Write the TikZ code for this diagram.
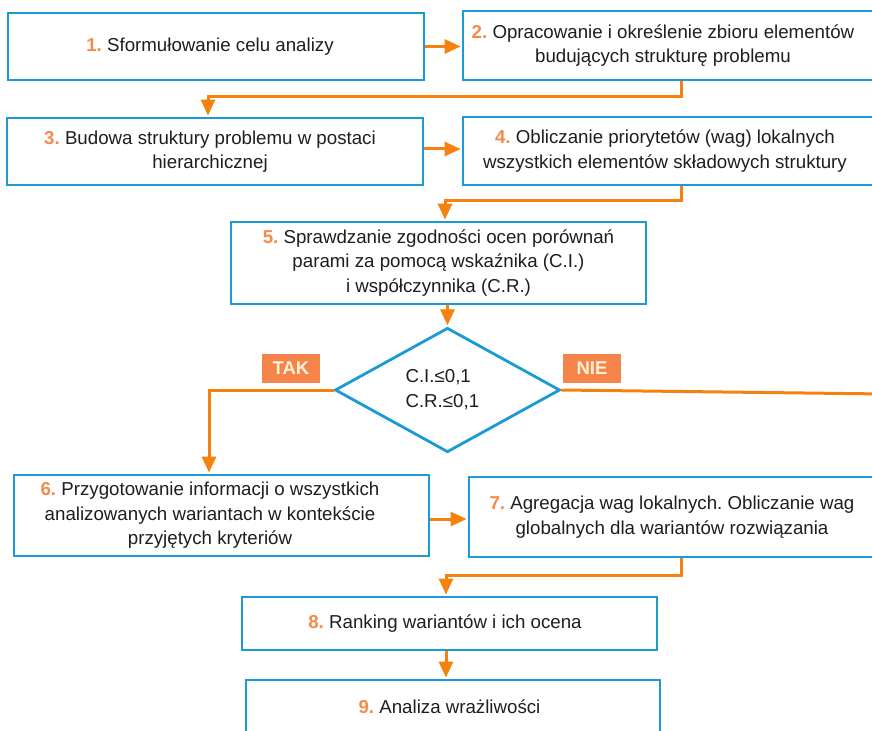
\documentclass[tikz,border=0pt]{standalone}
\usepackage{fontspec}
\setmainfont{Liberation Sans}
\usetikzlibrary{shapes.geometric,arrows.meta}
\frenchspacing

\definecolor{boxblue}{HTML}{1B9AD6}
\definecolor{flow}{HTML}{F5820F}
\definecolor{numor}{HTML}{F58A4A}
\definecolor{tagfill}{HTML}{F5844A}
\definecolor{tagtext}{HTML}{FFF2D8}
\definecolor{inktext}{HTML}{1E1E1E}

% step number in orange bold
\newcommand\stepno[1]{{\color{numor}\bfseries #1.}}
% centred text block of width #1, pushed left by half of #2
\newcommand\steptext[3]{\parbox{#1}{\centering #3}\hspace*{#2}}

\tikzset{
  stepbox/.style={draw=boxblue, line width=2.8bp, fill=white, inner sep=0pt,
    text=inktext, font=\fontsize{18.7bp}{24.5bp}\selectfont},
  decision/.style={diamond, draw=boxblue, line width=2.8bp, fill=white, inner sep=0pt,
    minimum width=225bp, minimum height=120bp, text=inktext,
    font=\fontsize{18.7bp}{25bp}\selectfont},
  flowline/.style={draw=flow, line width=3bp},
  flowarrow/.style={flowline, -{Triangle[length=16bp,width=14bp]}, shorten >=1bp},
  tag/.style={fill=tagfill, text=tagtext, inner sep=0pt,
    minimum width=58bp, minimum height=29bp,
    font=\fontsize{18.5bp}{20bp}\selectfont\bfseries},
}

\begin{document}
\begin{tikzpicture}[x=1bp, y=-1bp]
  \useasboundingbox (0,0) rectangle (872,731);
  \fill[white] (0,0) rectangle (872,731);
  \clip (0,0) rectangle (872,731);

  % process steps
  \node[stepbox, minimum width=416bp, minimum height=67bp] (b1) at (216,46.5)
    {\steptext{400bp}{12bp}{\stepno{1} Sformułowanie celu analizy}};
  \node[stepbox, minimum width=416bp, minimum height=69bp] (b2) at (671,45.5)
    {\steptext{392bp}{16bp}{\stepno{2} Opracowanie i określenie zbioru elementów\\budujących strukturę problemu}};
  \node[stepbox, minimum width=416bp, minimum height=67bp] (b3) at (215,151.5)
    {\steptext{400bp}{10bp}{\stepno{3} Budowa struktury problemu w postaci\\hierarchicznej}};
  \node[stepbox, minimum width=416bp, minimum height=68bp] (b4) at (671,151)
    {\steptext{400bp}{12bp}{\stepno{4} Obliczanie priorytetów (wag) lokalnych\\wszystkich elementów składowych struktury}};
  \node[stepbox, minimum width=415bp, minimum height=82bp] (b5) at (438.5,263)
    {\steptext{400bp}{0bp}{\stepno{5} Sprawdzanie zgodności ocen porównań\\parami za pomocą wskaźnika (C.I.)\\i współczynnika (C.R.)}};

  % consistency check
  \node[decision] (d1) at (447.5,390)
    {\raisebox{2bp}{\parbox{84bp}{C.I.≤0,1\\C.R.≤0,1}}};
  \node[tag] (tak) at (291,368.5) {TAK};
  \node[tag] (nie) at (592,368.5) {NIE};

  \node[stepbox, minimum width=415bp, minimum height=81bp] (b6) at (221.5,515.5)
    {\raisebox{3.5bp}{\steptext{370bp}{23bp}{\stepno{6} Przygotowanie informacji o wszystkich\\analizowanych wariantach w kontekście\\przyjętych kryteriów}}};
  \node[stepbox, minimum width=416bp, minimum height=80bp] (b7) at (677,517)
    {\steptext{400bp}{10bp}{\stepno{7} Agregacja wag lokalnych. Obliczanie wag\\globalnych dla wariantów rozwiązania}};
  \node[stepbox, minimum width=415bp, minimum height=53bp] (b8) at (449.5,623.5)
    {\steptext{400bp}{9bp}{\stepno{8} Ranking wariantów i ich ocena}};
  \node[stepbox, minimum width=414bp, minimum height=53bp] (b9) at (453,706.5)
    {\steptext{400bp}{7bp}{\stepno{9} Analiza wrażliwości}};

  % connector bends
  \coordinate (j23) at (208,97);
  \coordinate (j45) at (445,200);
  \coordinate (jt)  at (209,0);
  \coordinate (nieend) at (885,394);
  \coordinate (j78) at (446,575);

  % connectors
  \draw[flowarrow] (b1.east) -- (b1.east -| b2.west);
  \draw[flowarrow] ([xshift=10bp]b2.south) |- (j23) -- (j23 |- b3.north);
  \draw[flowarrow] ([yshift=2.5bp]b3.east) -- ([yshift=2.5bp]b3.east -| b4.west);
  \draw[flowarrow] ([xshift=10bp]b4.south) |- (j45) -- (j45 |- b5.north);
  \draw[flowarrow] (d1.north |- b5.south) -- (d1.north);
  \draw[flowarrow] (d1.west) -| (jt |- b6.north);
  \draw[flowline]  (d1.east) -- (nieend);
  \draw[flowarrow] ([yshift=-3.5bp]b6.east) -- ([yshift=-3.5bp]b6.east -| b7.west);
  \draw[flowarrow] ([xshift=4bp]b7.south) |- (j78) -- (j78 |- b8.north);
  \draw[flowarrow] (j78 |- b8.south) -- (j78 |- b9.north);
\end{tikzpicture}
\end{document}
